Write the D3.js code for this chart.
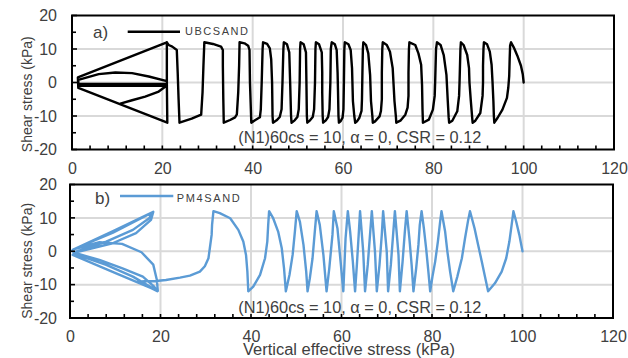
<!DOCTYPE html>
<html><head><meta charset="utf-8">
<script src="https://cdn.jsdelivr.net/npm/d3@7"></script>
<style>
body{margin:0;background:#fff;}
svg{display:block;font-family:"Liberation Sans",Arial,sans-serif;}
</style>
</head><body>
<svg id="c" width="628" height="358"></svg>
<script>
// ---------- data ----------
const xTicks = [0, 20, 40, 60, 80, 100, 120];
const yTicks = [-20, -10, 0, 10, 20];
const xMinorTicks = [4,8,12,16,24,28,32,36,44,48,52,56,64,68,72,76,84,88,92,96,104,108,112,116];
const yMinorTicks = [-15, -5, 5, 15];
const annotation = "(N1)60cs = 10, \u03b1 = 0, CSR = 0.12";
const xTitle = "Vertical effective stress (kPa)";
const yTitle = "Shear stress (kPa)";

// UBCSAND stress path (vertical effective stress kPa, shear stress kPa)
const ubcsand = [
[100,0],[99.8,2.5],[99.4,5],[98.6,8],[97.8,10.5],[97.2,12],
[97.0,11],[96.9,7],[96.8,2],[96.6,-1.5],[96.3,-4.6],[95.3,-8.1],[94.2,-10.6],[93.5,-12],
[93.4,-10],[93.3,-5.6],[93.1,0.3],[92.9,5.3],[92.5,9.2],[91.9,11.4],[91.2,12],
[91.1,10],[91.0,5],[91.0,0],[90.9,-4],[90.4,-9.1],[89.3,-11.4],[88.7,-12],
[88.6,-10.5],[88.3,-5.5],[88.0,0],[87.9,4.3],[87.5,8.2],[86.7,11.2],[86.1,12],
[86.0,10],[85.9,5],[85.8,0],[85.7,-4],[85.3,-8.6],[84.2,-11.4],[83.5,-12],
[83.4,-10.5],[83.2,-5.6],[82.9,2.3],[82.3,8.2],[81.6,11.2],[80.8,12],
[80.6,10],[80.5,5],[80.4,0],[80.3,-4],[79.9,-8.1],[79.0,-11.1],[77.7,-12],
[77.6,-8],[77.5,-0.7],[77.3,5.3],[76.7,8.7],[76.0,11.2],[74.7,12],
[74.6,10],[74.5,3],[74.5,-4],[74.3,-7.5],[73.8,-9.6],[72.7,-11.4],[71.8,-12],
[71.7,-10],[71.4,-5.6],[71.0,4.3],[70.4,9.2],[69.7,11.2],[68.8,12],
[68.7,10],[68.6,3],[68.6,-5],[68.4,-8.5],[68.1,-10.1],[67.1,-11.6],[66.6,-12],
[66.5,-10],[66.2,-5.6],[66.0,2.3],[65.6,8.7],[65.1,11.2],[64.5,12],
[64.4,10],[64.3,3],[64.2,-5],[64.1,-8.5],[63.6,-10.6],[63.1,-11.6],[62.7,-12],
[62.5,-10],[62.2,-5.6],[62.0,4.3],[61.7,9.7],[61.2,11.4],[60.4,12],
[60.3,10],[60.2,0],[60.1,-8],[59.9,-10.5],[59.5,-11.5],[59.1,-12],
[59.0,-10],[58.9,-3],[58.8,3],[58.6,9.7],[58.2,11.4],[57.5,12],
[57.3,10],[57.2,0],[57.0,-8],[56.7,-10.3],[56.2,-11.3],[55.6,-12],
[55.5,-10],[55.4,-3],[55.4,3],[55.3,9],[54.7,11.4],[54.0,12],
[53.9,10],[53.8,0],[53.6,-8],[53.3,-10.3],[52.7,-11.3],[52.1,-12],
[52.0,-10],[51.9,0],[51.8,9],[51.3,11.4],[50.6,12],
[50.5,10],[50.4,0],[50.2,-8],[49.9,-10.3],[49.3,-11.3],[48.6,-12],
[48.5,-10],[48.3,0],[48.1,9],[47.6,11.4],[46.9,12],
[46.8,10],[46.6,0],[46.4,-8],[46.0,-10.3],[45.3,-11.3],[44.5,-12],
[44.4,-10],[44.3,0],[44.1,7],[43.8,10.2],[43.2,11.5],[42.3,12],
[42.2,10],[42.0,0],[41.8,-8],[41.6,-10.4],[40.6,-11.2],[39.7,-12],
[39.6,-8],[39.4,0],[39.3,9.7],[39.0,11.0],[38.2,11.7],[37.1,12],
[37.0,5],[36.8,-3],[36.5,-9.5],[36.1,-10.4],[35.0,-11.2],[33.6,-12],
[33.5,-5],[33.4,5],[33.4,9.7],[33.0,10.7],[31.2,11.5],[29.3,12],
[29.1,5],[28.9,-3],[28.6,-9.6],[26.5,-10.8],[23.8,-12],
[23.6,-5],[23.4,3],[23.2,9.7],[22.2,10.7],[21.4,11.2],[21.0,12],
[21.0,0],[21.1,-12],[1.4,-1.6],[1.3,1.5],[21.0,12],[21.0,0.4],
[17.0,1.8],[13.3,2.8],[9.6,3.0],[5.9,2.5],[1.4,0.8],[1.4,-0.4],[21.0,-0.4],[21.0,-0.9],
[19.2,-2.7],[16.2,-4.2],[13.3,-5.3],[10.7,-6.3]
];
const ubcsandTail = [[1.4,-1.0],[21.0,-1.0]];

// PM4SAND stress path
const pm4sand = [
[100,0],[99.3,4.9],[98.6,8.9],[98.0,12],
[97.6,7.9],[97.1,2.9],[96.4,-2.1],[95.4,-6.1],[93.9,-9.6],[92.4,-12],
[91.7,-7.6],[91.0,-3.1],[90.2,1.9],[89.4,6.9],[88.4,12],
[88.0,9.4],[87.3,3.9],[86.6,-2.1],[85.6,-7.6],[84.7,-12],
[84.0,-6.1],[83.4,-0.1],[82.9,5.9],[82.1,12],
[81.8,8.9],[81.3,2.9],[80.7,-3.1],[80.1,-7.6],[79.6,-12],
[79.2,-6.1],[78.7,0.9],[78.2,6.9],[77.7,12],
[77.3,7.9],[77.0,1.9],[76.5,-5.1],[75.9,-12],
[75.5,-4.1],[75.0,3.9],[74.4,12],
[74.0,5.9],[73.5,-3.1],[72.9,-12],
[72.6,-1.1],[71.8,12],
[71.4,4.9],[70.9,-4.1],[70.3,-12],
[70.0,-0.1],[69.2,12],
[68.9,4.9],[68.4,-4.1],[67.8,-12],
[67.4,-0.1],[66.7,12],
[66.3,4.9],[65.8,-4.1],[65.2,-12],
[64.8,-0.1],[64.1,12],
[63.8,5],[63.4,-4],[63.0,-12],
[62.5,-3],[61.9,6],[61.4,12],
[60.9,3.9],[60.4,-12],
[59.8,-3.1],[59.1,6.9],[58.3,12],
[58.0,4.9],[57.3,-5.1],[56.7,-12],
[56.0,-1.1],[55.2,7.9],[54.5,12],
[54.1,5.9],[53.6,-2.1],[53.0,-8.1],[52.5,-12],
[52.2,-6.1],[51.6,1.9],[50.8,8.9],[50.1,12],
[49.7,5.9],[49.2,-1.1],[48.5,-7.1],[47.7,-12],
[47.3,-5.1],[46.8,0.9],[46.0,5.9],[44.9,9.9],[44.0,12],
[43.8,7.9],[43.6,2.9],[43.1,-2.1],[42.0,-7.1],[40.5,-10.6],[39.4,-12],
[39.2,-6.1],[38.9,-1.1],[38.3,2.9],[37.2,6.4],[35.4,9.9],[33.1,11.4],[31.7,12],
[31.4,8],[31.3,4.9],[30.9,0.9],[30.6,-2.1],[29.8,-4.5],[28.7,-6.1],[26.5,-7.3],[24.3,-7.9],[21.2,-8.6],[19.0,-8.9],[16.5,-9.0],[15.0,-9.1],[16.5,-10.1],[18.3,-11.3],[19.3,-12],
[18.6,-10.6],[16.1,-7.6],[11.6,-5.1],[6.5,-2.6],[1.3,-0.6],[0.5,0],[0.6,0.4],[9.4,6.0],[18.4,11.8],
[17.5,9.9],[13.9,6.4],[8.0,2.9],[1.3,-0.1],[0.6,-1.1],[10.2,-6.6],[19.4,-11.9],
[18.3,-11.1],[13.9,-7.6],[8.0,-4.1],[1.3,-0.9],[1.3,-0.3],[9.4,2.4],[14.6,5.4],[17.9,9.4],[18.4,11.8],
[9.5,5.6],[0.8,0.6],[6.5,2.7],[11.5,2.2],[15.8,-0.3],[18.4,-4],[19.2,-8.6],[19.4,-11.9]
];

// ---------- layout ----------
const panels = [
  {tag:"a)", name:"UBCSAND", color:"#000000", series:[ubcsand, ubcsandTail],
   l:72, r:614, t:15.5, b:149.5,
   tagX:93, tagY:38.3, legX1:127.7, legX2:180, legY:31.7, legTX:185, legTY:35,
   noteX:238.3, noteY:143.3, yTitleY:94.2},
  {tag:"b)", name:"PM4SAND", color:"#5B9BD5", series:[pm4sand],
   l:70, r:613, t:184.5, b:318,
   tagX:95, tagY:203.5, legX1:120, legX2:173.3, legY:196, legTX:176.7, legTY:201.7,
   noteX:238.3, noteY:313.3, yTitleY:260.8}
];

const svg = d3.select("#c");
svg.append("rect").attr("width",628).attr("height",358).attr("fill","#fff");

panels.forEach(p => {
  const x = d3.scaleLinear().domain([0,120]).range([p.l, p.r]);
  const y = d3.scaleLinear().domain([-20,20]).range([p.b, p.t]);
  const g = svg.append("g");

  // gridlines
  g.selectAll(".gx").data(xTicks.filter(v => v>0 && v<120)).enter().append("line")
    .attr("x1", d=>x(d)).attr("x2", d=>x(d)).attr("y1", p.t).attr("y2", p.b)
    .attr("stroke","#d9d9d9").attr("stroke-width",2);
  g.selectAll(".gy").data(yTicks.filter(v => v>-20 && v<20)).enter().append("line")
    .attr("x1", p.l).attr("x2", p.r).attr("y1", d=>y(d)).attr("y2", d=>y(d))
    .attr("stroke","#d9d9d9").attr("stroke-width",2);

  // curves
  const line = d3.line().x(d=>x(d[0])).y(d=>y(d[1]));
  p.series.forEach(s => {
    g.append("path").attr("d", line(s)).attr("fill","none")
      .attr("stroke", p.color).attr("stroke-width",2.4)
      .attr("stroke-linejoin","round").attr("stroke-linecap","round");
  });

  // inward tick marks
  g.selectAll(".tx").data(xTicks.concat(xMinorTicks)).enter().append("line")
    .attr("x1", d=>x(d)).attr("x2", d=>x(d)).attr("y1", p.b).attr("y2", p.b-4)
    .attr("stroke","#000").attr("stroke-width",1.6);
  g.selectAll(".ty").data(yTicks.concat(yMinorTicks)).enter().append("line")
    .attr("x1", p.l).attr("x2", d => p.l + (yMinorTicks.includes(d) ? 4 : 5))
    .attr("y1", d=>y(d)).attr("y2", d=>y(d))
    .attr("stroke","#000").attr("stroke-width",1.6);

  // border
  g.append("rect").attr("x",p.l).attr("y",p.t).attr("width",p.r-p.l).attr("height",p.b-p.t)
    .attr("fill","none").attr("stroke","#000").attr("stroke-width",2);

  // axis labels via d3 axes
  const ax = g.append("g").attr("transform",`translate(0,${p.b})`)
    .call(d3.axisBottom(x).tickValues(xTicks).tickSize(0).tickPadding(13).tickFormat(d=>String(d)));
  ax.select(".domain").remove();
  ax.selectAll("text").attr("font-size",16).attr("fill","#404040").attr("font-family","Liberation Sans, Arial, sans-serif");
  const ay = g.append("g").attr("transform",`translate(${p.l},0)`)
    .call(d3.axisLeft(y).tickValues(yTicks).tickSize(0).tickPadding(p.l-57).tickFormat(d=>String(d)));
  ay.select(".domain").remove();
  ay.selectAll("text").attr("font-size",16).attr("fill","#404040").attr("font-family","Liberation Sans, Arial, sans-serif");

  // y title
  g.append("text").attr("transform",`translate(27.3,${p.yTitleY}) rotate(-90)`)
    .attr("text-anchor","middle").attr("dominant-baseline","central")
    .attr("font-size",14).attr("fill","#404040").text(yTitle);

  // panel tag
  g.append("text").attr("x",p.tagX).attr("y",p.tagY).attr("font-size",17).attr("fill","#404040").text(p.tag);

  // legend
  g.append("line").attr("x1",p.legX1).attr("x2",p.legX2).attr("y1",p.legY).attr("y2",p.legY)
    .attr("stroke",p.color).attr("stroke-width",2.4);
  g.append("text").attr("x",p.legTX).attr("y",p.legTY).attr("font-size",11).attr("fill","#404040")
    .attr("textLength",63).attr("lengthAdjust","spacing").text(p.name);

  // annotation
  g.append("text").attr("x",p.noteX).attr("y",p.noteY).attr("font-size",16).attr("fill","#404040")
    .attr("textLength",243).attr("lengthAdjust","spacingAndGlyphs").text(annotation);
});

// x title
svg.append("text").attr("x",349).attr("y",355).attr("text-anchor","middle")
  .attr("font-size",16).attr("fill","#404040")
  .attr("textLength",212).attr("lengthAdjust","spacingAndGlyphs").text(xTitle);
</script>
</body></html>
